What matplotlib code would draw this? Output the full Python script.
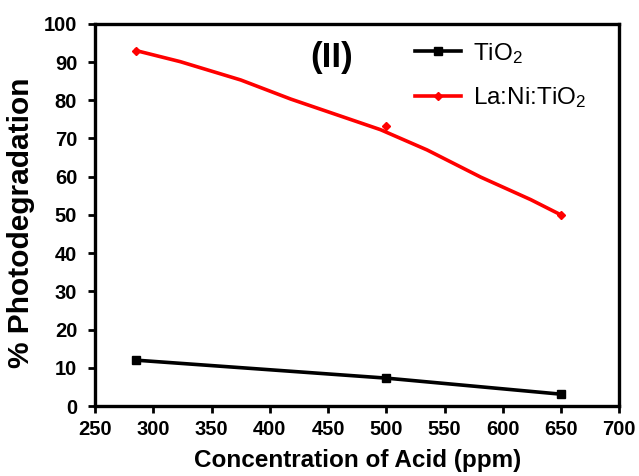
import numpy as np
import matplotlib
matplotlib.use("Agg")
import matplotlib.pyplot as plt

plt.rcParams['font.family'] = ['Liberation Sans', 'DejaVu Sans']
plt.rcParams['mathtext.default'] = 'regular'

# data
conc = [285, 500, 650]
tio2 = [12.0, 7.3, 3.1]
lanitio2 = [93.0, 73.3, 50.0]

# smooth fitted curve drawn through La:Ni:TiO2
curve_x = [285, 323, 375, 418, 495, 535, 581, 624, 650]
curve_y = [93.0, 90.1, 85.3, 80.3, 72.3, 67.0, 59.9, 54.0, 50.0]

fig = plt.figure(figsize=(6.39, 4.76), dpi=100)
ax = fig.add_axes([0.149, 0.147, 0.820, 0.803])

ax.plot(conc, tio2, color="black", lw=2.6, marker="s", ms=6, label="TiO$_2$")
ax.plot(curve_x, curve_y, color="red", lw=2.6, label="_nolegend_")
ax.plot(conc, lanitio2, color="red", lw=0, marker="D", ms=4.5)
ax.plot([], [], color="red", lw=2.6, marker="D", ms=4.5, label="La:Ni:TiO$_2$")

ax.set_xlim(250, 700)
ax.set_ylim(0, 100)
ax.set_xticks(np.arange(250, 701, 50))
ax.set_yticks(np.arange(0, 101, 10))

for s in ax.spines.values():
    s.set_linewidth(2.4)
ax.tick_params(direction="out", length=5, width=2, labelsize=14.5)
ax.tick_params(axis="x", pad=5)
ax.tick_params(axis="y", pad=8)
for lab in ax.get_xticklabels() + ax.get_yticklabels():
    lab.set_fontweight("bold")

ax.set_xlabel("Concentration of Acid (ppm)", fontsize=17.5, fontweight="bold", labelpad=7)
ax.set_ylabel("% Photodegradation", fontsize=21.5, fontweight="bold")
ax.yaxis.set_label_coords(-0.115, 0.48)

ax.text(452.7, 91.2, "(II)", fontsize=25, fontweight="bold", ha="center", va="center")

leg = ax.legend(loc="upper left", bbox_to_anchor=(0.61, 0.955), frameon=False,
                fontsize=17.5, handlelength=1.9, handletextpad=0.5, labelspacing=0.8,
                borderpad=0, borderaxespad=0)

fig.savefig("out.png", dpi=100)
